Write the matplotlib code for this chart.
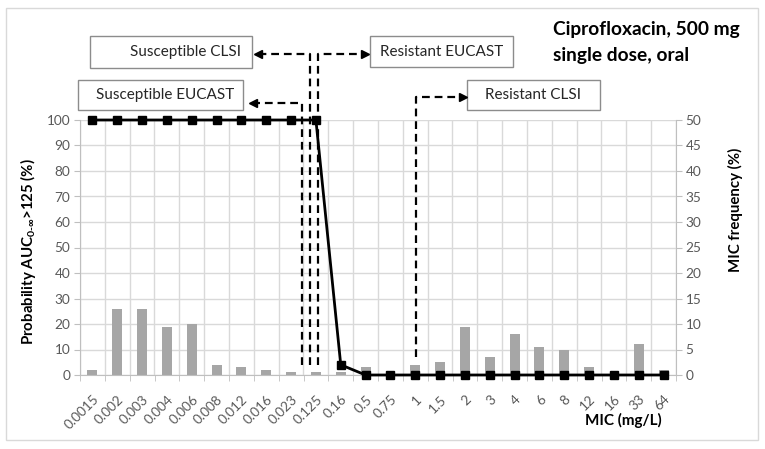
import matplotlib
matplotlib.use('Agg')
import matplotlib.pyplot as plt
from matplotlib.lines import Line2D
from matplotlib.patches import Rectangle
import numpy as np

# ---------------- data ----------------
mic_labels = ["0.0015", "0.002", "0.003", "0.004", "0.006", "0.008", "0.012",
              "0.016", "0.023", "0.125", "0.16", "0.5", "0.75", "1", "1.5",
              "2", "3", "4", "6", "8", "12", "16", "33", "64"]
prob_auc = [100, 100, 100, 100, 100, 100, 100, 100, 100, 100, 4, 0,
            0, 0, 0, 0, 0, 0, 0, 0, 0, 0, 0, 0]
mic_freq = [1, 13, 13, 9.5, 10, 2, 1.5, 1, 0.5, 0.5, 0.5, 1.5,
            0, 2, 2.5, 9.5, 3.5, 8, 5.5, 5, 1.5, 0, 6, 1]
left_ticks = list(range(0, 101, 10))
right_ticks = list(range(0, 51, 5))

plt.rcParams['font.family'] = ['Lato', 'DejaVu Sans']
plt.rcParams['mathtext.fontset'] = 'custom'
plt.rcParams['mathtext.rm'] = 'Lato:bold'
plt.rcParams['mathtext.it'] = 'Lato:bold'
plt.rcParams['mathtext.bf'] = 'Lato:bold'

W, H = 765, 449
fig = plt.figure(figsize=(W / 100, H / 100), dpi=100)


def fx(p):
    return p / W


def fy(p):
    return 1 - p / H


GRID = '#d9d9d9'
AXC = '#bfbfbf'
TXT = '#595959'

ax = fig.add_axes([fx(80), fy(375), (676 - 80) / W, (375 - 120) / H])
ax2 = ax.twinx()
x = np.arange(len(mic_labels))

# bars (secondary axis)
ax2.bar(x, mic_freq, width=0.4, color='#a6a6a6', zorder=3)
ax2.set_ylim(0, 50)
ax2.set_yticks(right_ticks)
ax2.grid(axis='y', color=GRID, lw=1, zorder=0)
ax2.set_axisbelow(True)
ax2.vlines(np.arange(-0.5, len(mic_labels), 1), 0, 1, transform=ax2.get_xaxis_transform(),
           color=GRID, lw=1, zorder=0)

# line (primary axis)
ax.set_zorder(ax2.get_zorder() + 1)
ax.patch.set_visible(False)
ax.plot(x, prob_auc, color='black', lw=2.0, marker='s', ms=5.5, clip_on=False, zorder=5)
ax.set_ylim(0, 100)
ax.set_xlim(-0.5, len(mic_labels) - 0.5)
ax.set_yticks(left_ticks)
ax.set_xticks(x)
ax.set_xticks(np.arange(-0.5, len(mic_labels), 1), minor=True)
ax.set_xticklabels(mic_labels, rotation=45, ha='right', va='top', rotation_mode='anchor')

for a in (ax, ax2):
    a.spines['top'].set_visible(False)
ax.spines['right'].set_visible(False)
ax2.spines['left'].set_visible(False)
ax2.spines['bottom'].set_visible(False)
ax.spines['left'].set_color(AXC)
ax.spines['bottom'].set_color(AXC)
ax2.spines['right'].set_color(AXC)

ax.tick_params(axis='y', direction='out', length=4, color=AXC, labelsize=9.8,
               labelcolor=TXT, pad=3)
ax2.tick_params(axis='y', direction='out', length=4, color=AXC, labelsize=9.8,
                labelcolor=TXT, pad=3)
ax.tick_params(axis='x', which='major', length=0, labelsize=9.8, labelcolor=TXT, pad=13)
ax.tick_params(axis='x', which='minor', direction='out', length=4, color=AXC)

# axis titles
fig.text(fx(28), fy(252), r'Probability AUC$_{0\text{-}\infty}$>125 (%)', rotation=90,
         ha='center', va='center', fontweight='bold', fontsize=10.8, color='black')
fig.text(fx(735), fy(210), 'MIC frequency (%)', rotation=90, ha='center', va='center',
         fontweight='bold', fontsize=10.8, color='black')
fig.text(fx(662), fy(420), 'MIC (mg/L)', ha='right', va='center', fontweight='bold',
         fontsize=11, color='black')

# title
fig.text(fx(553), fy(29), 'Ciprofloxacin, 500 mg', ha='left', va='center',
         fontweight='bold', fontsize=13.8, color='black')
fig.text(fx(553), fy(55), 'single dose, oral', ha='left', va='center',
         fontweight='bold', fontsize=13.8, color='black')

# outer border
fig.add_artist(Rectangle((fx(6), fy(440)), fx(758) - fx(6), fy(8) - fy(440),
                         transform=fig.transFigure, fill=False, ec=GRID, lw=1))


# annotation boxes
def box(x0, x1, y0, y1, text, tx):
    fig.add_artist(Rectangle((fx(x0), fy(y1)), fx(x1) - fx(x0), fy(y0) - fy(y1),
                             transform=fig.transFigure, fc='white', ec='#8c8c8c', lw=1))
    fig.text(fx(tx), fy((y0 + y1) / 2), text, ha='center', va='center',
             fontsize=11, color='#262626')


box(90, 252, 36, 68, 'Susceptible CLSI', 185)
box(78, 243, 80, 110, 'Susceptible EUCAST', 165)
box(370, 513, 36, 67, 'Resistant EUCAST', 442)
box(467, 600, 80, 110, 'Resistant CLSI', 533)


def arrow(xv, ybot, ytop, xtip, direction):
    sgn = -1 if direction == '<' else 1
    xend = xtip - sgn * 6
    fig.add_artist(Line2D([fx(xv), fx(xv), fx(xend)], [fy(ybot), fy(ytop), fy(ytop)],
                          transform=fig.transFigure, color='black', lw=1.6,
                          linestyle=(0, (3.5, 2.2)), zorder=10))
    fig.add_artist(Line2D([fx(xtip - sgn * 3)], [fy(ytop)], marker=direction, ms=6,
                          color='black', transform=fig.transFigure, zorder=10))


arrow(302, 365, 103, 250, '<')
arrow(310, 365, 54, 255, '<')
arrow(318, 365, 54, 368, '>')
arrow(416, 357, 97, 466, '>')

fig.savefig('out.png', dpi=100)
